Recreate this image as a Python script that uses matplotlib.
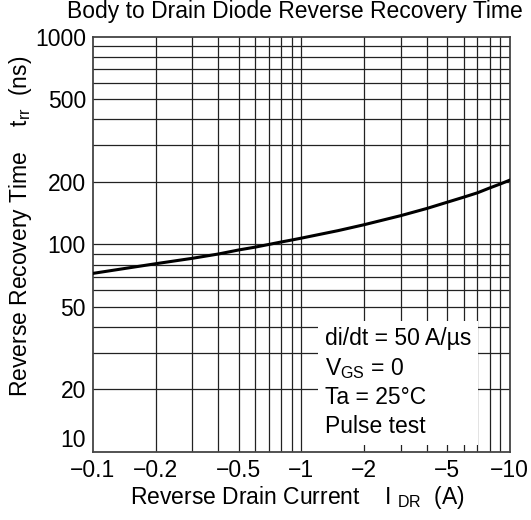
import numpy as np
import matplotlib
matplotlib.use("Agg")
import matplotlib.pyplot as plt
import matplotlib.ticker as ticker

plt.rcParams['font.family'] = ['Liberation Sans', 'DejaVu Sans']
plt.rcParams['mathtext.fontset'] = 'custom'
plt.rcParams['mathtext.rm'] = 'Liberation Sans'
plt.rcParams['mathtext.it'] = 'Liberation Sans'

# data (|I_DR| in A, trr in ns)
current = [0.1, 0.2, 0.3, 0.4, 0.5, 0.6, 0.7, 0.8, 0.9, 1.0, 1.5, 2.0,
           3.0, 4.0, 5.0, 6.0, 7.0, 8.0, 9.0, 10.0]
trr = [72.5, 80.7, 85.7, 89.9, 94.0, 97.0, 100.0, 102.7, 105.0, 107.2, 116.5, 124.4,
       137.6, 149.0, 159.6, 168.8, 177.3, 187.0, 195.5, 204.0]

x_ticks = [0.1, 0.2, 0.5, 1, 2, 5, 10]
x_labels = ['\u22120.1', '\u22120.2', '\u22120.5', '\u22121', '\u22122', '\u22125', '\u221210']
y_ticks = [10, 20, 50, 100, 200, 500, 1000]
y_labels = ['10', '20', '50', '100', '200', '500', '1000']

fig = plt.figure(figsize=(5.31, 5.20), dpi=100)
ax = fig.add_axes([0.175, 0.131, 0.785, 0.798])

ax.set_xscale('log')
ax.set_yscale('log')
ax.set_xlim(0.1, 10)
ax.set_ylim(10, 1000)

# grid at every 1..9 step of each decade
for d in [0.1, 1]:
    for k in range(1, 10):
        v = d * k
        if 0.1 < v < 10:
            ax.axvline(v, color='#222222', lw=0.9, zorder=1)
for d in [10, 100]:
    for k in range(1, 10):
        v = d * k
        if 10 < v < 1000:
            ax.axhline(v, color='#222222', lw=0.9, zorder=1)

ax.plot(current, trr, color='black', lw=2.2, zorder=3)

ax.xaxis.set_major_locator(ticker.FixedLocator(x_ticks))
ax.xaxis.set_major_formatter(ticker.FixedFormatter(x_labels))
ax.xaxis.set_minor_locator(ticker.NullLocator())
ax.yaxis.set_major_locator(ticker.FixedLocator(y_ticks))
ax.yaxis.set_major_formatter(ticker.FixedFormatter(y_labels))
ax.yaxis.set_minor_locator(ticker.NullLocator())
ax.tick_params(length=0, labelsize=16.5, pad=5)
fig.canvas.draw()
ax.get_yticklabels()[0].set_verticalalignment('bottom')

for s in ax.spines.values():
    s.set_color('#444444')
    s.set_linewidth(1.3)

fig.text(0.556, 0.977, 'Body to Drain Diode Reverse Recovery Time',
         ha='center', va='center', fontsize=16.5)
fig.text(0.56, 0.044, r'Reverse Drain Current    I $_{\mathrm{DR}}$  (A)',
         ha='center', va='center', fontsize=16.5)
fig.text(0.038, 0.565, r'Reverse Recovery Time    t$_{\mathrm{rr}}$  (ns)',
         ha='center', va='center', rotation=90, fontsize=16.5)

ax.text(0.556, 0.30,
        'di/dt = 50 A/\u00b5s\n' + r'V$_{\mathrm{GS}}$ = 0' + '\nTa = 25\u00b0C\nPulse test',
        transform=ax.transAxes, ha='left', va='top', fontsize=16.5,
        linespacing=1.3, zorder=4,
        bbox=dict(boxstyle='square,pad=0.3', facecolor='white', edgecolor='none'))

fig.savefig('out.png', dpi=100)
